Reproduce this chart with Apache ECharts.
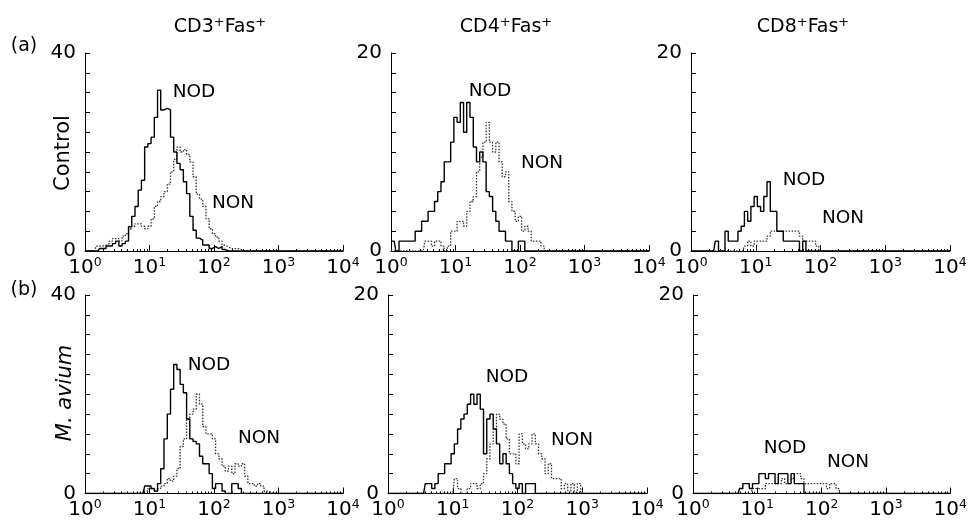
<!DOCTYPE html>
<html>
<head>
<meta charset="utf-8">
<script src="https://cdn.jsdelivr.net/npm/echarts@6/dist/echarts.min.js"></script>
<style>
html,body{margin:0;padding:0;background:#fff;}
#chart{width:970px;height:520px;}
</style>
</head>
<body>
<div id="chart"></div>
<script>
// Fluorescence channel positions (log scale, 1/20 decade bins)
const channels = [1,1.12,1.26,1.41,1.58,1.78,2,2.24,2.51,2.82,
  3.16,3.55,3.98,4.47,5.01,5.62,6.31,7.08,7.94,8.91,
  10,11.2,12.6,14.1,15.8,17.8,20,22.4,25.1,28.2,
  31.6,35.5,39.8,44.7,50.1,56.2,63.1,70.8,79.4,89.1,
  100,112,126,141,158,178,200,224,251,282,
  316,355,398,447,501,562,631,708,794,891,
  1000];
const xEnd = 10000;
const xTickExponents = ['0','1','2','3','4'];

const columnTitles = ['CD3', 'CD4', 'CD8'];
const rowTags = ['(a)', '(b)'];
const rowNames = ['Control', 'M. avium'];
const yMaxes = [40, 20, 20, 40, 20, 20];

// (a) Control
const cd3ControlNOD = [0,0,0,0,0,0.5,0.5,1,1,1.5, 2,1,1.5,2,4.9,7,9,12.3,14.3,21,
  21.7,23,27,32.5,28.5,28.8,28.5,23,20,17.7, 16.4,14,11.6,7,4.2,2.6,2.2,1.2,1.2,0.5,
  0.9,0.5,0.9,0.3];
const cd3ControlNON = [0,0,0,0,1,1,1.2,1.5,2,2.5, 2.5,2,3,3.5,4.5,5,5.5,5.5,5,4.5,
  5,6.5,9,10,11,12,13.5,16,18.5,21, 20,20.5,19.5,18,15,11.5,10.5,9,6.5,4.5,
  3.5,2.8,2,1.2,0.8,0.5,0.5,0.5,0.3];
const cd4ControlNOD = [1,1,0,1,1,1,1,1,2,2, 3,3,4,4,5,6,7,9,9,11,
  13.5,13,15,12,15,13.5,10.5,9,10,9, 6,5.5,4,3,2,2,1,1,0,0,
  1,1,0];
const cd4ControlNON = [0,0,0,0,0,0,0,0,0,0, 0,1,1,0.5,1,1,0.5,0,0.5,2,
  2,3,3,2.5,4,5,5.5,8,9.5,11, 13,11,10,11,9,7.5,8,5,4,3,
  3.5,2,2.5,2,1,1,1,0.5];
const cd8ControlNOD = [0,0,0,0,0,0,0,0,1,0, 0,2,1,1,1,2,2.5,4,3,4.5,
  5.5,4.5,4,5.5,7,4,4,2,2,1, 1,1,1,1,0,1,0];
const cd8ControlNON = [0,0,0,0,0,0,0,0,0,0, 0,0,0,0,0,0,0,0.5,1,0.5,
  1,1,1,1,1.5,2,2,2,2,2, 2,2,2,2,1.5,1,1,1,1,0.5];

// (b) M. avium
const cd3AviumNOD = [0,0,0,0,0,0,0,0,0,0, 0,0,0,0,0,0,0,0,0,1.5,
  1.5,1,0.5,2,5,11,16,21,26,25, 22,20.3,15,11,10.5,10,7.5,6,6,4,
  1,2,2,0.5,0,0,2,2,1];
const cd3AviumNON = [0,0,0,0,0,0,0,0,0,0, 0,0,0,0,0,0,0,0,0,0.5,
  1,1,0.5,1,1.5,2,3,2.5,3.5,5, 9.5,11,15,16,17,20,18,13.5,12,12,
  11,8,7,5.5,4.5,5.5,4,6,5.5,6, 3.5,2,2,1.5,2,1.5,0.5,0.3];
const cd4AviumNOD = [0,0,0,0,0,0,0,0,0,0, 0,0,1,1,0.5,1,2,2,3,3,
  4,5,6.5,7.5,8,9,10,9,10,8.5, 4,7.5,8,6.5,5,3,4,3,2,1,
  0.5,1,0,1,1,1];
const cd4AviumNON = [0,0,0,0,0,0,0,0,0,0, 0,0,0,0,0,0,0,0,0,0,
  0,1.5,0.5,0,0,0.5,1,1,0.5,1, 2,3.5,5,6.5,8,7.5,7,5.5,4,4,
  3,6,5,4.5,5,6,5,4,3.5,2, 3,1.5,1.5,1.5,0.5,1,0.3,1,0,1,
  0];
const cd8AviumNOD = [0,0,0,0,0,0,0,0,0,0, 0,0,0,0,0,0.5,1,1,0.5,1,
  1,2,2,1.5,2,2,1,2,2,2, 1,2,1,1,1];
const cd8AviumNON = [0,0,0,0,0,0,0,0,0,0, 0,0,0,0,0,0,0,0,0,0.5,
  0.5,0.5,0.5,1,1,1,1,1,1.5,1, 1,1.5,2,2,1.5,1,1,1,1,1,
  1,1,0.5,1,1,0.5];

const nodSeries = [cd3ControlNOD, cd4ControlNOD, cd8ControlNOD, cd3AviumNOD, cd4AviumNOD, cd8AviumNOD];
const nonSeries = [cd3ControlNON, cd4ControlNON, cd8ControlNON, cd3AviumNON, cd4AviumNON, cd8AviumNON];

const FONT = 'DejaVu Sans';
const grids = [
  {left: 85, top: 53, width: 258, height: 198},
  {left: 391, top: 53, width: 258, height: 198},
  {left: 691, top: 53, width: 259, height: 198},
  {left: 85, top: 295, width: 258, height: 199},
  {left: 388, top: 295, width: 259, height: 199},
  {left: 693, top: 295, width: 259, height: 199}
];
// label positions [NOD x,y, NON x,y]
const labelPos = [
  [194, 92, 233, 203],
  [490, 91, 542, 163],
  [804, 180, 843, 218],
  [209, 365, 259, 438],
  [507, 377, 572, 440],
  [785, 448, 848, 462]
];

function toData(vals) {
  const d = channels.map((c, i) => [c, vals[i] !== undefined ? vals[i] : 0]);
  d.push([xEnd, 0]);
  return d;
}

const supRich = {
  b: {fontSize: 20, fontFamily: FONT, color: '#000'},
  s: {fontSize: 12.5, fontFamily: FONT, color: '#000', padding: [0, 0, 10, 0]}
};

const xAxes = [], yAxes = [], series = [];
grids.forEach((g, k) => {
  xAxes.push({
    type: 'log', logBase: 10, min: 1, max: xEnd, gridIndex: k,
    axisLine: {show: true, lineStyle: {color: '#000', width: 1}},
    axisTick: {show: true, inside: true, length: 6, lineStyle: {color: '#000', width: 1}},
    minorTick: {show: true, inside: true, splitNumber: 10, length: 2, lineStyle: {color: '#000', width: 1}},
    splitLine: {show: false}, minorSplitLine: {show: false},
    axisLabel: {
      margin: 5,
      formatter: (v, i) => '{b|10}{s|' + xTickExponents[i] + '}',
      rich: supRich
    }
  });
  const ymax = yMaxes[k];
  yAxes.push({
    type: 'value', min: 0, max: ymax, interval: ymax / 10, gridIndex: k,
    axisLine: {show: true, lineStyle: {color: '#000', width: 1}},
    axisTick: {show: true, inside: true, length: 5, lineStyle: {color: '#000', width: 1}},
    splitLine: {show: false},
    axisLabel: {
      margin: 9, fontSize: 20, fontFamily: FONT, color: '#000',
      formatter: v => (v === 0 || v === ymax) ? String(v) : ''
    }
  });
  series.push({
    type: 'line', name: 'NON', xAxisIndex: k, yAxisIndex: k, step: 'middle',
    showSymbol: false, symbol: 'none', data: toData(nonSeries[k]),
    lineStyle: {color: '#333', width: 1.3, type: [1.5, 1.5]}, z: 2
  });
  series.push({
    type: 'line', name: 'NOD', xAxisIndex: k, yAxisIndex: k, step: 'middle',
    showSymbol: false, symbol: 'none', data: toData(nodSeries[k]),
    lineStyle: {color: '#000', width: 1.4}, z: 3
  });
});

const graphics = [];
const titleX = [220, 506, 803];
columnTitles.forEach((t, i) => {
  graphics.push({
    type: 'text', x: titleX[i], y: 27,
    style: {
      text: '{n|' + t + '}{s|+}{n|Fas}{s|+}',
      align: 'center', verticalAlign: 'middle',
      rich: {
        n: {fontSize: 19, fontFamily: FONT, fill: '#000'},
        s: {fontSize: 13, fontFamily: FONT, fill: '#000', padding: [0, 0, 9, 0]}
      }
    }
  });
});
const tagY = [46, 290];
rowTags.forEach((t, i) => {
  graphics.push({type: 'text', x: 24, y: tagY[i],
    style: {text: t, fontSize: 19, fontFamily: FONT, fill: '#000', align: 'center', verticalAlign: 'middle'}});
});
graphics.push({type: 'text', x: 64, y: 153, rotation: Math.PI / 2,
  style: {text: rowNames[0], fontSize: 21, fontFamily: FONT, fill: '#000', align: 'center', verticalAlign: 'middle'}});
graphics.push({type: 'text', x: 66, y: 393, rotation: Math.PI / 2,
  style: {text: rowNames[1], fontSize: 21, fontStyle: 'italic', fontFamily: FONT, fill: '#000', align: 'center', verticalAlign: 'middle'}});
labelPos.forEach(p => {
  graphics.push({type: 'text', x: p[0], y: p[1],
    style: {text: 'NOD', fontSize: 18.5, fontFamily: FONT, fill: '#000', align: 'center', verticalAlign: 'middle'}});
  graphics.push({type: 'text', x: p[2], y: p[3],
    style: {text: 'NON', fontSize: 18.5, fontFamily: FONT, fill: '#000', align: 'center', verticalAlign: 'middle'}});
});

const chart = echarts.init(document.getElementById('chart'), null, {renderer: 'canvas'});
chart.setOption({
  animation: false,
  backgroundColor: '#fff',
  grid: grids,
  xAxis: xAxes,
  yAxis: yAxes,
  series: series,
  graphic: graphics
});
</script>
</body>
</html>
